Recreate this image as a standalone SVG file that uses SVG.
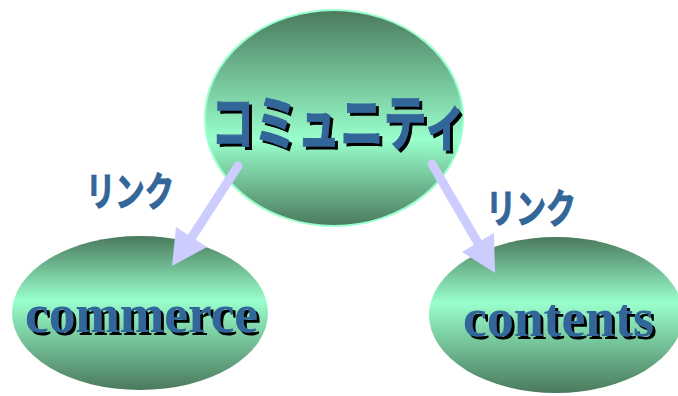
<svg xmlns="http://www.w3.org/2000/svg" width="678" height="396" viewBox="0 0 678 396">
<style>
.jp{font-family:"Noto Sans CJK JP","Noto Sans",sans-serif;font-weight:bold;stroke:#336699;stroke-width:1.2}
.en{font-family:"Liberation Serif","Times New Roman",serif;font-weight:bold}
.lbl{fill:#336699;filter:url(#shadow)}
.link{fill:#336699;font-size:40px}
.conn{stroke:#ccccff;stroke-width:9;stroke-linecap:round;fill:none}
.head{fill:#ccccff}
</style>
<defs>
<linearGradient id="gTop" x1="0" y1="0" x2="0" y2="1">
<stop offset="0" stop-color="#4a7a5c"/>
<stop offset="0.6" stop-color="#99ffcc"/>
<stop offset="1" stop-color="#4a7a5c"/>
</linearGradient>
<linearGradient id="gLow" x1="0" y1="0" x2="0" y2="1">
<stop offset="0" stop-color="#4a7a5c"/>
<stop offset="0.42" stop-color="#99ffcc"/>
<stop offset="1" stop-color="#4a7a5c"/>
</linearGradient>
<filter id="shadow" x="-5%" y="-20%" width="115%" height="150%">
<feOffset in="SourceAlpha" dx="3" dy="3" result="off"/>
<feFlood flood-color="#000000"/>
<feComposite in2="off" operator="in" result="sh"/>
<feMerge><feMergeNode in="sh"/><feMergeNode in="SourceGraphic"/></feMerge>
</filter>
</defs>
<rect width="678" height="396" fill="#ffffff"/>
<g id="community">
<ellipse cx="334" cy="118" rx="129" ry="108" fill="url(#gTop)" stroke="#99ffcc" stroke-width="2"/>
<text class="jp lbl" x="211" y="145" font-size="60" textLength="256" lengthAdjust="spacingAndGlyphs">コミュニティ</text>
</g>
<g id="commerce">
<ellipse cx="140" cy="313" rx="128" ry="77" fill="url(#gLow)"/>
<text class="en lbl" x="25" y="332" font-size="54" textLength="233" lengthAdjust="spacingAndGlyphs">commerce</text>
</g>
<g id="contents">
<ellipse cx="556" cy="315" rx="127" ry="78" fill="url(#gLow)"/>
<text class="en lbl" x="463" y="336" font-size="54" textLength="191" lengthAdjust="spacingAndGlyphs">contents</text>
</g>
<g id="connectors">
<line class="conn" x1="238" y1="166" x2="192" y2="237"/>
<polygon class="head" points="172,266 176,227 207,247"/>
<line class="conn" x1="432" y1="164" x2="478" y2="243"/>
<polygon class="head" points="495,273 462,252 494,233"/>
<text class="jp link" x="86" y="206" textLength="88" lengthAdjust="spacingAndGlyphs">リンク</text>
<text class="jp link" x="486" y="223" textLength="90" lengthAdjust="spacingAndGlyphs">リンク</text>
</g>
</svg>
